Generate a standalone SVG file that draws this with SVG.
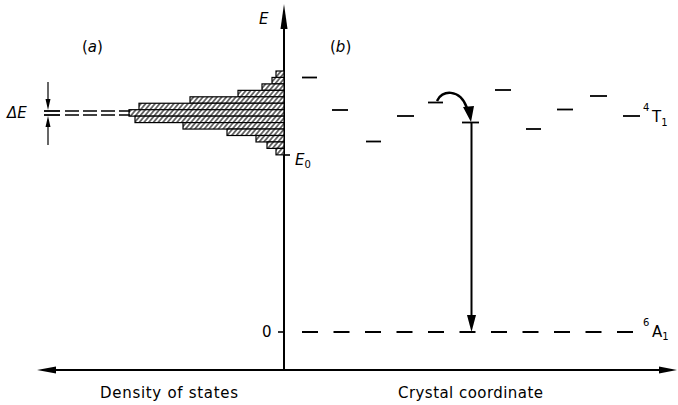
<svg xmlns="http://www.w3.org/2000/svg" width="678" height="405" viewBox="0 0 678 405">
<style>
text{font-family:"DejaVu Sans","Liberation Sans",sans-serif;fill:#000}
.lab{font-size:15px}
.it{font-style:italic}
.ax{stroke:#000;stroke-width:2;fill:none}
.lvl{stroke:#000;stroke-width:1.8}
.bar{fill:url(#hatch);stroke:#000;stroke-width:1.2}
.dsh{stroke:#000;stroke-width:1.4;stroke-dasharray:14 4;fill:none}
</style>
<defs>
<pattern id="hatch" patternUnits="userSpaceOnUse" width="3.6" height="10" patternTransform="rotate(40)">
<rect width="3.6" height="10" fill="#fff"/>
<line x1="1.8" y1="0" x2="1.8" y2="10" stroke="#000" stroke-width="1.1"/>
</pattern>
</defs>
<rect width="678" height="405" fill="#fff"/>

<g id="axes">
<line class="ax" x1="284" y1="370" x2="284" y2="24"/>
<polygon points="284,4 280.5,29 287.5,29" fill="#000"/>
<line class="ax" x1="52" y1="370" x2="664" y2="370"/>
<polygon points="37,370 56,366.5 56,373.5" fill="#000"/>
<polygon points="677,370 659,366.5 659,373.5" fill="#000"/>
<text class="lab it" x="259" y="24">E</text>
<line class="ax" x1="284" y1="155" x2="290" y2="155" style="stroke-width:1.6"/>
<text class="lab it" x="295" y="165" font-size="14">E<tspan font-size="10" dy="3" font-style="normal">0</tspan></text>
<line class="ax" x1="278" y1="332" x2="284" y2="332" style="stroke-width:1.6"/>
<text class="lab" x="262" y="337" font-size="14">0</text>
<text class="lab" x="100" y="398" textLength="138" lengthAdjust="spacing">Density of states</text>
<text class="lab" x="398" y="398" textLength="145" lengthAdjust="spacing">Crystal coordinate</text>
</g>

<g id="panel-a">
<text class="lab" x="82" y="52">(<tspan class="it">a</tspan>)</text>
<g id="histogram">
<rect class="bar" x="276" y="71" width="8" height="6.45"/>
<rect class="bar" x="272" y="77.45" width="12" height="6.45"/>
<rect class="bar" x="262" y="83.9" width="22" height="6.45"/>
<rect class="bar" x="238" y="90.35" width="46" height="6.45"/>
<rect class="bar" x="190" y="96.8" width="94" height="6.45"/>
<rect class="bar" x="139" y="103.25" width="145" height="6.45"/>
<rect class="bar" x="129" y="109.7" width="155" height="6.45"/>
<rect class="bar" x="135" y="116.15" width="149" height="6.45"/>
<rect class="bar" x="183" y="122.6" width="101" height="6.45"/>
<rect class="bar" x="227" y="129.05" width="57" height="6.45"/>
<rect class="bar" x="256" y="135.5" width="28" height="6.45"/>
<rect class="bar" x="267" y="141.95" width="17" height="6.45"/>
<rect class="bar" x="276" y="148.4" width="8" height="6.45"/>
</g>
<g id="delta-e">
<line class="dsh" x1="65" y1="111" x2="130" y2="111"/>
<line class="dsh" x1="65" y1="115" x2="130" y2="115"/>
<line x1="44" y1="111" x2="60" y2="111" stroke="#000" stroke-width="1.8"/>
<line x1="44" y1="115" x2="60" y2="115" stroke="#000" stroke-width="1.8"/>
<line x1="48" y1="82" x2="48" y2="102" stroke="#000" stroke-width="1.2"/>
<polygon points="48,110 45.5,99 50.5,99" fill="#000"/>
<line x1="48" y1="125" x2="48" y2="145" stroke="#000" stroke-width="1.2"/>
<polygon points="48,116 45.5,127 50.5,127" fill="#000"/>
<text class="lab it" x="7" y="118">ΔE</text>
</g>
</g>

<g id="panel-b">
<text class="lab" x="330" y="52">(<tspan class="it">b</tspan>)</text>
<g id="levels">
<line class="lvl" x1="302" y1="77.5" x2="317" y2="77.5"/>
<line class="lvl" x1="332" y1="110" x2="348" y2="110"/>
<line class="lvl" x1="366" y1="141.5" x2="381" y2="141.5"/>
<line class="lvl" x1="397" y1="116" x2="414" y2="116"/>
<line class="lvl" x1="428" y1="102.5" x2="443" y2="102.5"/>
<line class="lvl" x1="462" y1="122.5" x2="479" y2="122.5"/>
<line class="lvl" x1="495" y1="90" x2="511" y2="90"/>
<line class="lvl" x1="526" y1="129" x2="541" y2="129"/>
<line class="lvl" x1="557" y1="109.5" x2="573" y2="109.5"/>
<line class="lvl" x1="590" y1="96" x2="607" y2="96"/>
<line class="lvl" x1="623" y1="116" x2="640" y2="116"/>
<text font-size="10" x="643" y="111">4</text>
<text class="lab" x="652" y="122">T<tspan font-size="10" dy="4">1</tspan></text>
</g>
<g id="ground">
<line x1="302" y1="332" x2="644" y2="332" stroke="#000" stroke-width="1.8" stroke-dasharray="16 15.5"/>
<text font-size="10" x="643" y="326">6</text>
<text class="lab" x="652" y="337">A<tspan font-size="10" dy="3">1</tspan></text>
</g>
<g id="connectors">
<path d="M437,101 C441,90 460,88 467,108" fill="none" stroke="#000" stroke-width="2.4"/>
<polygon points="463,107 474,106 471,122" fill="#000"/>
<line x1="471.5" y1="122" x2="471.5" y2="318" stroke="#000" stroke-width="2"/>
<polygon points="471.5,332 467,315 476,315" fill="#000"/>
</g>
</g>
</svg>
